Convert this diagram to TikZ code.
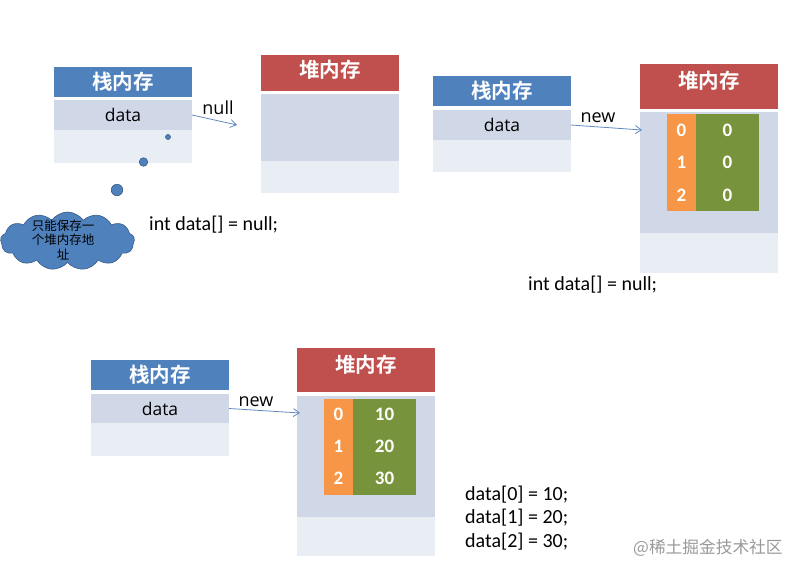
\documentclass[tikz,border=0pt]{standalone}
\usepackage{fontspec}
\setmainfont{Carlito}
\newfontfamily\cjk{Noto Sans CJK SC}
\newfontfamily\cjkbold{Noto Sans CJK SC Bold}
\newfontfamily\labelfont{Open Sans}
\usetikzlibrary{shapes.symbols,arrows.meta}
\definecolor{stackblue}{HTML}{4F81BD}
\definecolor{heapred}{HTML}{C0504D}
\definecolor{rowdark}{HTML}{D0D8E8}
\definecolor{rowlight}{HTML}{E9EDF4}
\definecolor{idxorange}{HTML}{F79646}
\definecolor{valgreen}{HTML}{77933C}
\definecolor{cloudblue}{HTML}{4F81BD}
\definecolor{arrowblue}{HTML}{6089BE}
\tikzset{
  cellbox/.style={anchor=north west,inner sep=0pt,outer sep=0pt,minimum width=138pt,text depth=0pt},
  stackhead/.style={cellbox,fill=stackblue,text=white,text depth=2pt,font=\cjkbold\fontsize{20.5}{20.5}\selectfont},
  heaphead/.style={cellbox,fill=heapred,text=white,font=\cjkbold\fontsize{20.5}{20.5}\selectfont},
  darkrow/.style={cellbox,fill=rowdark,font=\labelfont\fontsize{17.5}{17.5}\selectfont},
  lightrow/.style={cellbox,fill=rowlight},
  idxcell/.style={inner sep=0pt,outer sep=0pt,fill=idxorange,text=white,minimum width=29pt,font=\bfseries\fontsize{19}{19}\selectfont},
  valcell/.style={inner sep=0pt,outer sep=0pt,fill=valgreen,text=white,minimum width=63pt,font=\bfseries\fontsize{19}{19}\selectfont},
  refarrow/.style={arrowblue,-{Straight Barb[length=6pt,width=8pt]},line width=0.8pt},
  arrowlabel/.style={inner sep=0pt,font=\labelfont\fontsize{18}{18}\selectfont},
  codetext/.style={anchor=west,inner sep=0pt,font=\fontsize{20}{20}\selectfont},
  bubble/.style={circle,inner sep=0pt,fill=cloudblue,draw=cloudblue!70!black,line width=0.6pt},
}
\begin{document}
\begin{tikzpicture}[x=1pt,y=-1pt]
\useasboundingbox (0,0) rectangle (800,574);
% first pair
\node[stackhead,minimum height=30pt] (stackA) at (54,67) {栈内存};
\node[darkrow,minimum height=30pt] (dataA) at (54,100) {data};
\node[lightrow,minimum height=33pt] (restA) at (54,130) {};
\node[heaphead,minimum height=36pt,text depth=8pt] (heapA) at (261,55) {堆内存};
\node[darkrow,minimum height=67pt] (bodyA) at (261,94) {};
\node[lightrow,minimum height=32pt] (baseA) at (261,161) {};
\coordinate (endA) at (237,125);
\draw[refarrow] (dataA.east) -- (endA);
\node[arrowlabel] (nullA) at (218,108) {null};
\node[bubble,minimum size=5pt] (dotA) at (168,137) {};
\node[bubble,minimum size=8.5pt] (dotB) at (143.5,162) {};
\node[bubble,minimum size=11.5pt] (dotC) at (117,190) {};
\node[cloud,cloud puffs=13,cloud puff arc=110,aspect=2.3,fill=cloudblue,draw=cloudblue!70!black,line width=0.6pt,
  inner sep=0pt,minimum width=134pt,minimum height=58pt] (memcloud) at (67.5,241) {};
\node[inner sep=0pt,align=center,font=\cjk\fontsize{12.5}{14.5}\selectfont] (cloudtext) at (63,240) {只能保存一\\个堆内存地\\址};
\node[codetext] (codeA) at (149,225) {int data[] = null;};
% second pair
\node[stackhead,minimum height=30pt] (stackB) at (433,76) {栈内存};
\node[darkrow,minimum height=30pt] (dataB) at (433,110) {data};
\node[lightrow,minimum height=32pt] (restB) at (433,140) {};
\node[heaphead,minimum height=45pt,text depth=14pt] (heapB) at (640,64) {堆内存};
\node[darkrow,minimum height=121pt] (bodyB) at (640,112) {};
\node[lightrow,minimum height=40pt] (baseB) at (640,233) {};
\foreach \row/\val [count=\i] in {0/0,1/0,2/0} {
  \node[idxcell,minimum height=32.5pt] (idxB\i) at (681.5,{98+\i*32.3}) {\row};
  \node[valcell,minimum height=32.5pt] (valB\i) at (727.5,{98+\i*32.3}) {\val};
}
\coordinate (endB) at (642,130);
\draw[refarrow] (dataB.east) -- (endB);
\node[arrowlabel] (newB) at (598,118) {new};
\node[codetext] (codeB) at (528,284.5) {int data[] = null;};
% third pair
\node[stackhead,minimum height=30pt] (stackC) at (91,360) {栈内存};
\node[darkrow,minimum height=29pt] (dataC) at (91,394) {data};
\node[lightrow,minimum height=33pt] (restC) at (91,423) {};
\node[heaphead,minimum height=44pt,text depth=12pt] (heapC) at (297,348) {堆内存};
\node[darkrow,minimum height=121pt] (bodyC) at (297,396) {};
\node[lightrow,minimum height=39pt] (baseC) at (297,517) {};
\foreach \row/\val [count=\i] in {0/10,1/20,2/30} {
  \node[idxcell,minimum height=32pt] (idxC\i) at (338.5,{382.5+\i*32}) {\row};
  \node[valcell,minimum height=32pt] (valC\i) at (384.5,{382.5+\i*32}) {\val};
}
\coordinate (endC) at (300,413);
\draw[refarrow] (dataC.east) -- (endC);
\node[arrowlabel] (newC) at (256,402) {new};
\node[codetext] (assignA) at (465,494.5) {data[0] = 10;};
\node[codetext] (assignB) at (465,517.5) {data[1] = 20;};
\node[codetext] (assignC) at (465,541.5) {data[2] = 30;};
\node[anchor=west,inner sep=0pt,text=black!40,font=\cjk\fontsize{16.7}{16.7}\selectfont] (mark) at (633,547.5) {@稀土掘金技术社区};
\end{tikzpicture}
\end{document}
